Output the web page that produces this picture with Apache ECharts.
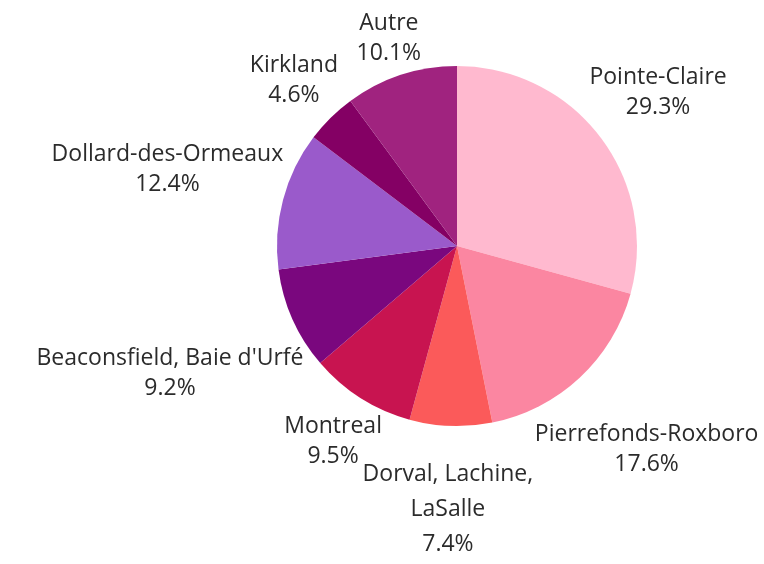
<!DOCTYPE html>
<html>
<head>
<meta charset="utf-8">
<script src="https://cdn.jsdelivr.net/npm/echarts@6/dist/echarts.min.js"></script>
<style>
  html, body { margin: 0; padding: 0; background: #fff; }
  #chart { width: 764px; height: 564px; }
</style>
</head>
<body>
<div id="chart"></div>
<script>
// data
const categories = ['Pointe-Claire', 'Pierrefonds-Roxboro', 'Dorval, Lachine, LaSalle', 'Montreal',
  "Beaconsfield, Baie d'Urfé", 'Dollard-des-Ormeaux', 'Kirkland', 'Autre'];
const shares = [29.3, 17.6, 7.4, 9.5, 9.2, 12.4, 4.6, 10.1];
const colors = ['#FFB9CF', '#FB86A1', '#FB5A5A', '#C81450', '#7A077E', '#9A5ACB', '#840064', '#A0237F'];

const CX = 457, CY = 246, R = 180, GAP = 0;
const total = shares.reduce((a, b) => a + b, 0);

// mid angle of each slice, clockwise from the top
const midAngles = [];
let acc = 0;
shares.forEach(v => {
  midAngles.push(((acc + v / 2) / total) * Math.PI * 2);
  acc += v;
});

// names with two commas get wrapped after the second one
const wraps = name => name.split(',').length > 2;

const chart = echarts.init(document.getElementById('chart'));
chart.setOption({
  animation: false,
  series: [
    {
      type: 'pie',
      center: [CX, CY],
      radius: R,
      startAngle: 90,
      clockwise: true,
      avoidLabelOverlap: false,
      data: categories.map((name, i) => ({
        name: name,
        value: shares[i],
        itemStyle: { color: colors[i] },
        label: wraps(name) ? { lineHeight: 35 } : undefined,
      })),
      itemStyle: { borderWidth: 0 },
      label: {
        show: true,
        position: 'outside',
        fontFamily: 'Open Sans',
        fontSize: 23,
        lineHeight: 30,
        color: '#2b2b2b',
        align: 'center',
        formatter: p => {
          let name = p.name;
          if (wraps(name)) {
            const k = name.lastIndexOf(', ');
            name = name.slice(0, k + 1) + '\n' + name.slice(k + 2);
          }
          return name + '\n' + p.value.toFixed(1) + '%';
        },
      },
      labelLine: { show: false },
      // place each label box just outside the pie, centred on the slice's mid ray
      labelLayout: params => {
        const a = midAngles[params.dataIndex];
        const ux = Math.sin(a), uy = -Math.cos(a);
        const w = params.labelRect.width, h = params.labelRect.height;
        let d = R + GAP + Math.abs(ux) * w / 2 + Math.abs(uy) * h / 2;
        // the wrapped label sits lower, clear of its neighbours
        if (wraps(categories[params.dataIndex])) d += 28;
        return {
          x: CX + ux * d,
          y: CY + uy * d,
          align: 'center',
          verticalAlign: 'middle',
        };
      },
    },
  ],
});
</script>
</body>
</html>
